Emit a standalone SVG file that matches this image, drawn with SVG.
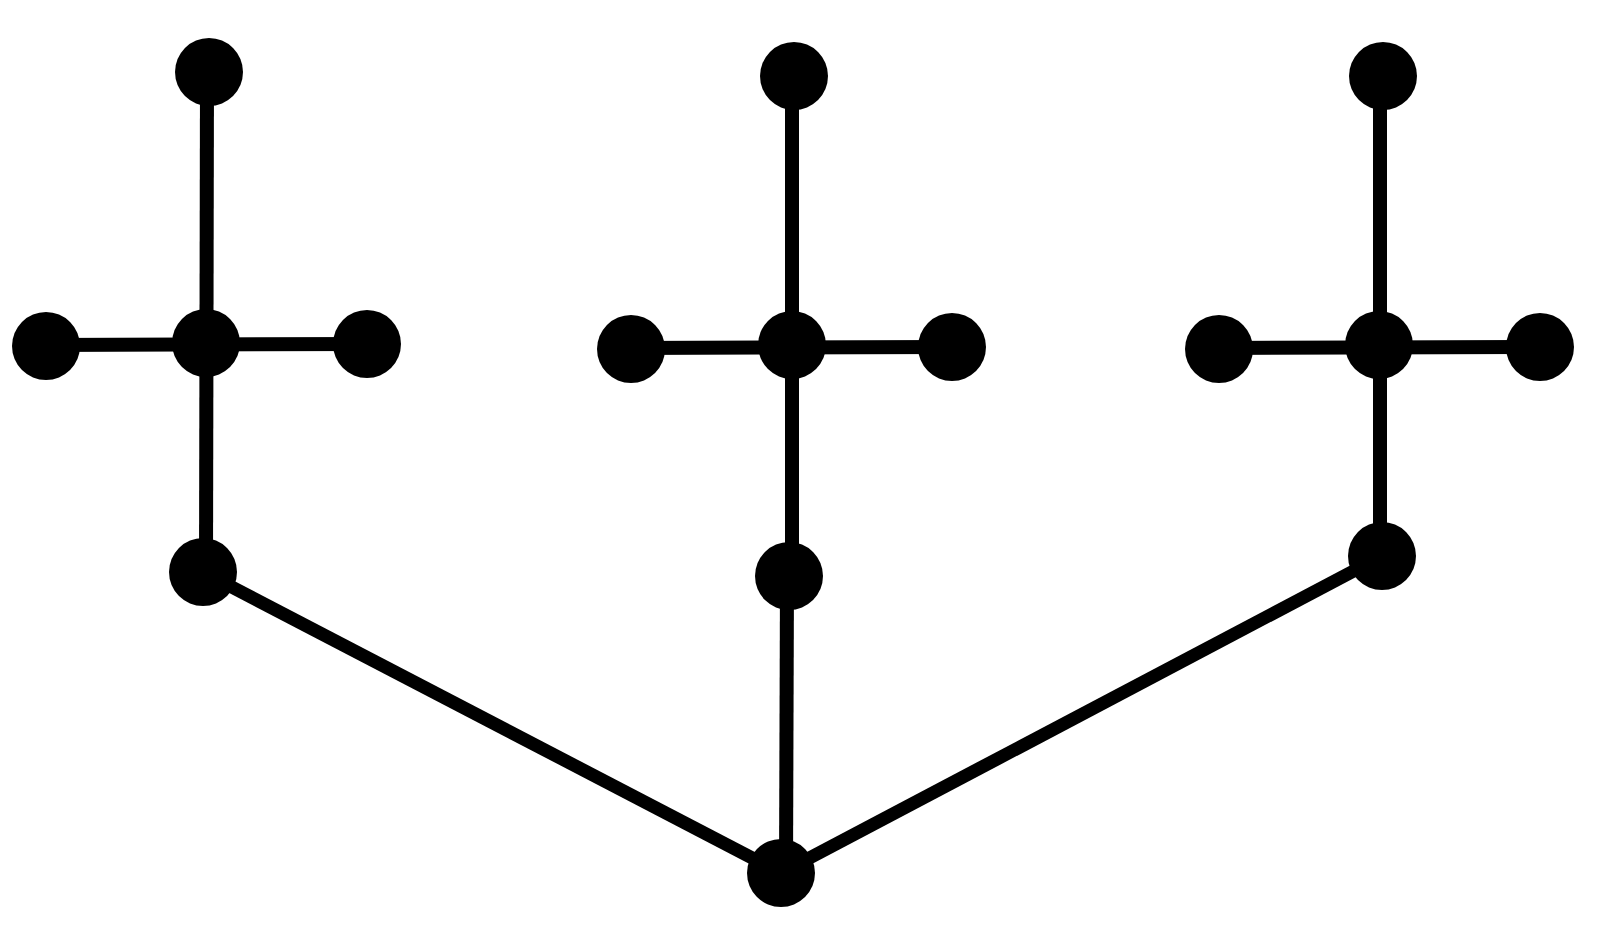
<svg xmlns="http://www.w3.org/2000/svg" width="1606" height="952" viewBox="0 0 1606 952">
<style>
.e{stroke:#000;stroke-width:14;fill:none}
.d{stroke:#000;stroke-width:13;fill:none}
.n{fill:#000}
</style>
<rect width="1606" height="952" fill="#fff"/>
<g id="connectors">
<line class="e" x1="207" y1="72" x2="206" y2="572"/>
<line class="e" x1="46" y1="345" x2="367" y2="344"/>
<line class="e" x1="792" y1="76" x2="792" y2="576"/>
<line class="e" x1="787" y1="576" x2="786" y2="873"/>
<line class="e" x1="631" y1="348" x2="952" y2="347"/>
<line class="e" x1="1380" y1="76" x2="1380" y2="556"/>
<line class="e" x1="1219" y1="348" x2="1540" y2="347"/>
<line class="d" x1="203" y1="572" x2="781" y2="873"/>
<line class="d" x1="781" y1="873" x2="1382" y2="556"/>
</g>
<g id="n1"><circle class="n" cx="209" cy="72" r="34"/></g>
<g id="n2"><circle class="n" cx="206" cy="343" r="34"/></g>
<g id="n3"><circle class="n" cx="46" cy="346" r="34"/></g>
<g id="n4"><circle class="n" cx="367" cy="344" r="34"/></g>
<g id="n5"><circle class="n" cx="203" cy="572" r="34"/></g>
<g id="n6"><circle class="n" cx="794" cy="76" r="34"/></g>
<g id="n7"><circle class="n" cx="792" cy="345" r="34"/></g>
<g id="n8"><circle class="n" cx="631" cy="349" r="34"/></g>
<g id="n9"><circle class="n" cx="952" cy="347" r="34"/></g>
<g id="n10"><circle class="n" cx="789" cy="576" r="34"/></g>
<g id="n11"><circle class="n" cx="1383" cy="76" r="34"/></g>
<g id="n12"><circle class="n" cx="1379" cy="345" r="34"/></g>
<g id="n13"><circle class="n" cx="1219" cy="349" r="34"/></g>
<g id="n14"><circle class="n" cx="1540" cy="347" r="34"/></g>
<g id="n15"><circle class="n" cx="1382" cy="556" r="34"/></g>
<g id="n16"><circle class="n" cx="781" cy="873" r="34"/></g>
</svg>
